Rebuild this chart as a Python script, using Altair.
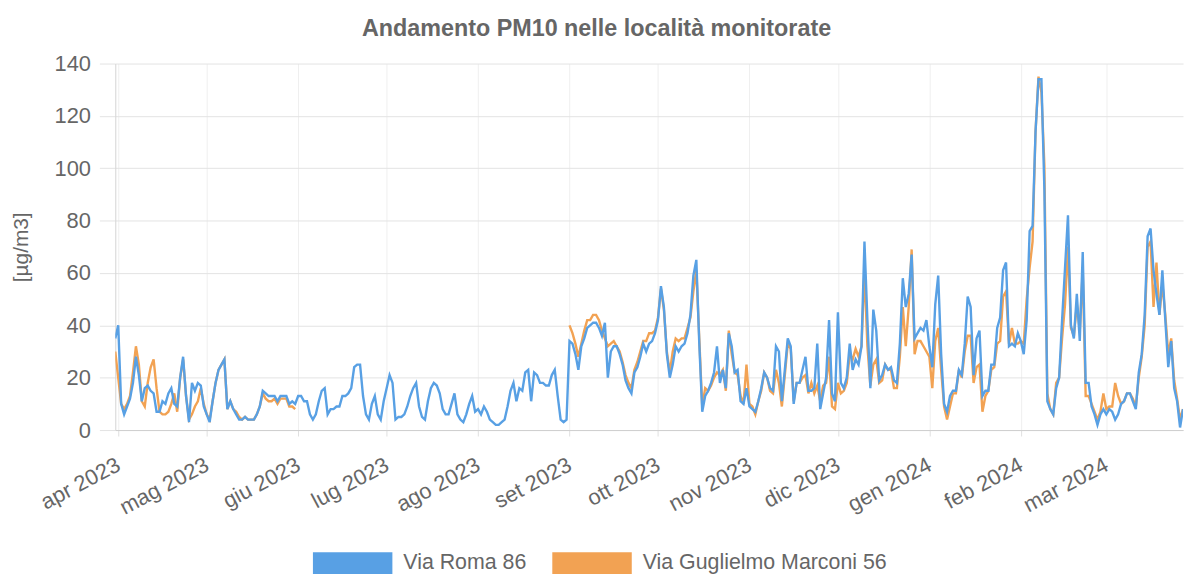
import altair as alt
import pandas as pd

# ---------------- data ----------------
start_date = "2023-03-31"
series_names = ["Via Roma 86", "Via Guglielmo Marconi 56"]
month_labels = ["gen", "feb", "mar", "apr", "mag", "giu", "lug", "ago", "set", "ott", "nov", "dic"]
tick_months = ["2023-04-01", "2023-05-01", "2023-06-01", "2023-07-01", "2023-08-01", "2023-09-01",
               "2023-10-01", "2023-11-01", "2023-12-01", "2024-01-01", "2024-02-01", "2024-03-01"]

roma_86 = [
    35, 40, 10, 6, 9, 12, 18, 28, 21, 11,
    16, 17, 15, 14, 7, 7, 11, 10, 14, 16,
    10, 9, 20, 28, 13, 3, 18, 15, 18, 17,
    9, 6, 3, 11, 18, 23, 25, 27, 8, 11,
    8, 6, 4, 4, 5, 4, 4, 4, 6, 9,
    15, 14, 13, 13, 13, 11, 13, 13, 13, 10,
    11, 10, 13, 13, 11, 11, 6, 4, 6, 11,
    15, 16, 6, 8, 8, 9, 9, 13, 13, 14,
    16, 24, 25, 25, 13, 6, 4, 10, 13, 6,
    4, 11, 16, 21, 18, 4, 5, 5, 6, 9,
    13, 16, 18, 9, 5, 4, 11, 16, 18, 17,
    14, 8, 6, 6, 10, 14, 6, 4, 3, 6,
    10, 13, 7, 8, 6, 9, 7, 4, 3, 2,
    2, 3, 4, 9, 15, 18, 11, 16, 15, 22,
    23, 11, 22, 21, 18, 18, 17, 17, 21, 23,
    13, 4, 3, 4, 34, 33, 29, 23, 32, 35,
    39, 40, 41, 41, 39, 36, 41, 20, 30, 32,
    32, 29, 25, 19, 16, 14, 22, 24, 28, 33,
    30, 33, 34, 37, 42, 55, 47, 29, 20, 25,
    32, 30, 32, 33, 37, 44, 59, 65, 33, 7,
    13, 15, 18, 22, 32, 18, 23, 16, 37, 32,
    22, 23, 11, 10, 16, 9, 8, 7, 11, 16,
    22, 20, 16, 15, 32, 30, 11, 23, 35, 32,
    10, 18, 18, 23, 28, 15, 15, 16, 33, 8,
    14, 20, 42, 14, 11, 45, 18, 16, 20, 33,
    23, 27, 25, 32, 72, 42, 16, 46, 38, 19,
    21, 25, 23, 24, 19, 18, 33, 58, 47, 52,
    67, 35, 37, 39, 38, 42, 32, 24, 48, 59,
    29, 10, 7, 13, 15, 15, 23, 21, 33, 51,
    47, 21, 35, 38, 13, 15, 15, 25, 25, 39,
    43, 61, 64, 32, 33, 32, 37, 34, 29, 42,
    76, 78, 114, 134, 134, 92, 11, 8, 6, 16,
    20, 42, 62, 82, 40, 35, 52, 34, 68, 18,
    18, 9, 6, 2, 6, 8, 6, 8, 7, 4,
    6, 10, 11, 14, 14, 11, 8, 22, 29, 44,
    74, 77, 61, 52, 44, 61, 42, 24, 34, 16,
    11, 1, 8,
]

marconi_56 = [
    30, 20, 10, 8, 10, 13, 22, 32, 25, 11,
    9, 18, 24, 27, 16, 7, 6, 6, 7, 10,
    14, 7, 20, 27, 13, 4, 6, 9, 11, 16,
    10, 6, 4, 11, 18, 23, 25, 27, 8, 11,
    8, 7, 5, 4, 5, 4, 4, 4, 6, 9,
    14, 12, 11, 11, 12, 10, 12, 12, 12, 9,
    9, 8,
] + [None] * 92 + [
    40, 37, 33, 28, 33, 38, 42, 42, 44, 44,
    42, 38, 35, 32, 33, 34, 32, 30, 26, 21,
    18, 16, 23, 26, 30, 34, 34, 37, 37, 38,
    43, 54, 46, 30, 22, 30, 35, 34, 35, 35,
    39, 43, 53, 61, 35, 9, 16, 15, 17, 20,
    22, 21, 23, 15, 38, 29, 22, 21, 13, 10,
    25, 10, 9, 6, 11, 15, 22, 20, 15, 14,
    23, 18, 9, 21, 33, 31, 11, 18, 18, 20,
    21, 14, 18, 14, 17, 11, 17, 18, 28, 9,
    8, 18, 14, 15, 18, 29, 27, 31, 28, 32,
    61, 32, 17, 25, 27, 18, 19, 25, 23, 23,
    16, 16, 28, 47, 32, 47, 69, 29, 34, 34,
    32, 30, 28, 16, 34, 39, 23, 9, 4, 9,
    14, 14, 23, 20, 30, 36, 36, 18, 24, 25,
    7, 13, 15, 23, 24, 33, 34, 51, 53, 33,
    39, 33, 33, 34, 33, 50, 62, 72, 114, 135,
    129, 101, 14, 8, 6, 18, 20, 35, 48, 70,
    39, 36, 48, 38, 61, 13, 13, 10, 7, 4,
    7, 14, 8, 9, 9, 18, 13, 10, 11, 14,
    14, 12, 9, 20, 28, 40, 70, 72, 47, 64,
    44, 56, 44, 29, 35, 19, 12, 4, 8,
]

# ---------------- build table ----------------
n = min(len(roma_86), len(marconi_56))
dates = pd.date_range(start_date, periods=n, freq="D", tz="UTC")
t_ms = [int(v // 10**6) for v in dates.asi8]

records = []
for name, vals in zip(series_names, [roma_86, marconi_56]):
    for t, v in zip(t_ms, vals[:n]):
        records.append({"t": t, "serie": name, "pm10": v})

tick_values = [int(pd.Timestamp(m, tz="UTC").value // 10**6) for m in tick_months]
label_expr = ("[" + ",".join("'%s'" % m for m in month_labels) + "][utcmonth(datum.value)]"
              " + ' ' + utcyear(datum.value)")

FONT = "Liberation Sans"
TEXT = "#666666"
BLUE = "#58a0e4"
ORANGE = "#f2a253"

color = alt.Color(
    "serie:N",
    scale=alt.Scale(domain=series_names, range=[BLUE, ORANGE]),
    legend=alt.Legend(
        orient="none", legendX=188, legendY=452, direction="horizontal",
        title=None, symbolType="stroke", symbolSize=6400, symbolStrokeWidth=22,
        labelFontSize=21.5, labelColor=TEXT, labelFont=FONT, labelOffset=0,
        labelLimit=500, columnPadding=-18, padding=0, gridAlign="none",
    ),
)

base = alt.Chart(alt.Data(values=records)).mark_line(strokeWidth=2.4, clip=True).encode(
    x=alt.X(
        "t:T",
        scale=alt.Scale(type="utc", domain=[t_ms[0], t_ms[n - 1]], nice=False),
        axis=alt.Axis(
            values=tick_values, labelExpr=label_expr, labelAngle=-28, labelAlign="right",
            labelBaseline="middle", labelPadding=27, labelFontSize=22, labelColor=TEXT,
            labelFont=FONT, labelOverlap=False, labelBound=False, labelFlush=False,
            grid=True, gridColor="#efefef", tickSize=6, tickColor="#e0e0e0",
            domainColor="#cfcfcf", title=None,
        ),
    ),
    y=alt.Y(
        "pm10:Q",
        scale=alt.Scale(domain=[0, 140], nice=False),
        axis=alt.Axis(
            values=[0, 20, 40, 60, 80, 100, 120, 140], grid=True, gridColor="#e3e3e3",
            tickSize=16, tickColor="#e3e3e3", domainColor="#d4d4d4", labelPadding=9,
            labelFontSize=22, labelColor=TEXT, labelFont=FONT,
            title="[µg/m3]", titleFontSize=21, titleFontWeight="normal", titleColor=TEXT,
            titleFont=FONT, titleAngle=-90, titleX=-94, titleY=184.5, titleAlign="center",
            titleBaseline="middle",
        ),
    ),
    color=color,
)

chart = alt.layer(
    base.transform_filter(alt.datum.serie == series_names[1]),
    base.transform_filter(alt.datum.serie == series_names[0]),
).properties(
    width=1075,
    height=369,
    autosize=alt.AutoSizeParams(type="none"),
    padding={"left": 108, "top": 54, "right": 2, "bottom": 143},
    title=alt.TitleParams(
        text="Andamento PM10 nelle località monitorate", fontSize=23.5, fontWeight="bold",
        color=TEXT, font=FONT, anchor="middle", frame="group", dx=-53, dy=23, offset=16,
        baseline="alphabetic",
    ),
).configure_view(strokeWidth=0)

chart.save("out.html", embed_options={"renderer": "svg", "actions": False})
